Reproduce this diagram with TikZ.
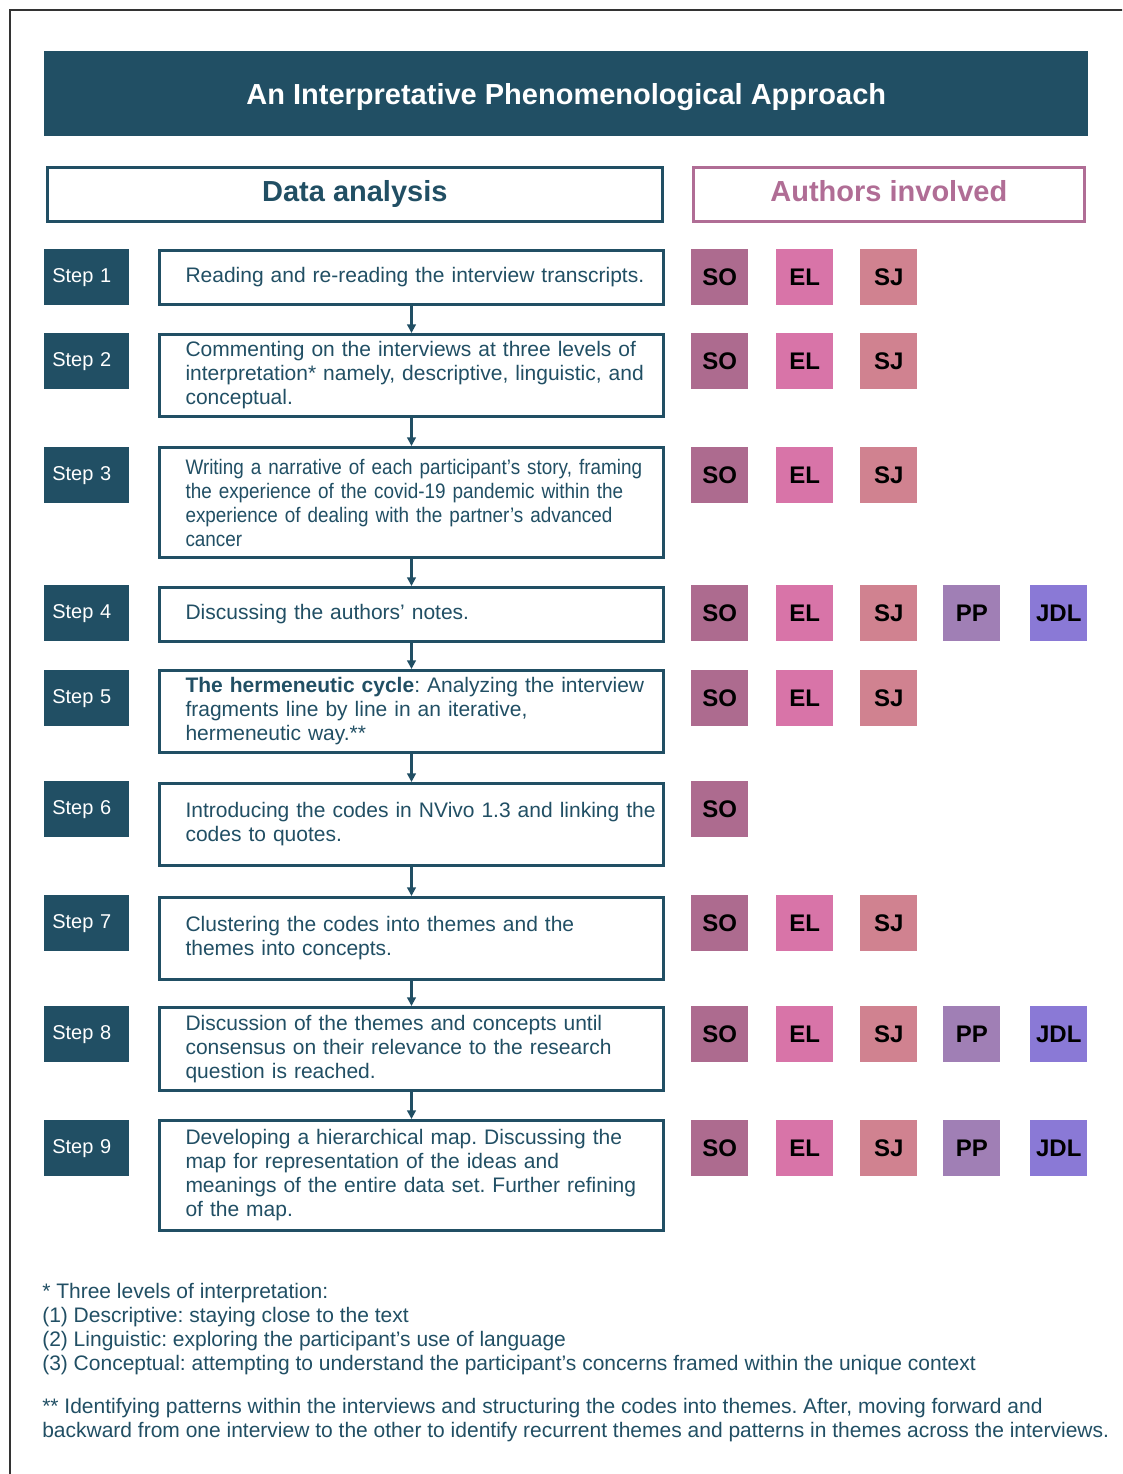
\documentclass[tikz,border=0pt]{standalone}
\usepackage{fontspec}
\setmainfont{Liberation Sans}
\newfontfamily\narrowsans[FakeStretch=0.9]{Liberation Sans}
\usetikzlibrary{arrows.meta}
\definecolor{ipateal}{HTML}{214F64}
\definecolor{ipapink}{HTML}{B06D95}
\definecolor{cSO}{HTML}{AD6B8F}
\definecolor{cEL}{HTML}{D874A8}
\definecolor{cSJ}{HTML}{D08290}
\definecolor{cPP}{HTML}{A07FB5}
\definecolor{cJDL}{HTML}{8A79D6}
\frenchspacing
\begin{document}
\begin{tikzpicture}[x=0.75pt,y=-0.75pt,
  bodyfont/.style={font=\fontsize{15.75pt}{18pt}\selectfont},
  textbox/.style={draw=ipateal, line width=2.25pt, anchor=north west, text width=339pt,
    align=left, inner xsep=19.5pt, inner ysep=0pt, bodyfont, text=ipateal},
  steplabel/.style={fill=ipateal, anchor=north west, text width=51.75pt, inner xsep=6pt,
    inner ysep=0pt, minimum height=42pt, align=left, text=white,
    font=\fontsize{15pt}{18pt}\selectfont},
  author/.style={anchor=north west, minimum width=42.75pt, minimum height=42pt,
    inner sep=0pt, text=black, font=\bfseries\fontsize{18pt}{20pt}\selectfont},
  headbox/.style={line width=2.25pt, anchor=north west, minimum height=40.5pt,
    inner sep=0pt, text height=11pt, text depth=0pt,
    font=\bfseries\fontsize{21.75pt}{26pt}\selectfont},
  flowarrow/.style={draw=ipateal, line width=2pt, -{Triangle[width=6.5pt,length=6.5pt]}},
  note/.style={anchor=north west, align=left, inner sep=0pt, bodyfont, text=ipateal}]
\clip (0,0) rectangle (1122,1474);
\fill[white] (0,0) rectangle (1122,1474);
% outer frame
\draw[line width=1.2pt, black!80] (10,1500) -- (10,10) -- (1140,10);
% title
\node[fill=ipateal, anchor=north west, minimum width=783pt, minimum height=63.75pt,
  inner sep=0pt, text=white, text height=15.6pt, text depth=0pt,
  font=\bfseries\fontsize{21.75pt}{26pt}\selectfont]
  (title) at (44,51) {An Interpretative Phenomenological Approach};
% headers
\node[headbox, draw=ipateal, text=ipateal, minimum width=461pt] (hdata) at (46,166) {Data analysis};
\node[headbox, draw=ipapink, text=ipapink, minimum width=293pt] (hauth) at (692,166) {Authors involved};
% step labels and authors
\foreach \r/\y/\n in {1/249/3, 2/333/3, 3/447/3, 4/585/5, 5/670/3, 6/781/1, 7/895/3, 8/1006/5, 9/1120/5}{
  \node[steplabel] (s\r) at (44,\y) {Step \r};
  \foreach \a/\x/\k in {SO/691/1, EL/776/2, SJ/860/3, PP/943/4, JDL/1030/5}{
    \ifnum\k>\n\relax\else
      \node[author, fill=c\a] (\a\r) at (\x,\y) {\a};
    \fi
  }
}
% step texts
\node[textbox, minimum height=40.5pt] (t1) at (158,249)
  {\mbox{Reading and re-reading the interview transcripts.}};
\node[textbox, minimum height=61.5pt] (t2) at (158,333)
  {\mbox{Commenting on the interviews at three levels of}\\
   \mbox{interpretation* namely, descriptive, linguistic, and}\\
   \mbox{conceptual.}};
\node[textbox, minimum height=82.5pt, font=\narrowsans\fontsize{15.75pt}{18pt}\selectfont] (t3) at (158,446)
  {\mbox{Writing a narrative of each participant’s story, framing}\\
   \mbox{the experience of the covid-19 pandemic within the}\\
   \mbox{experience of dealing with the partner’s advanced}\\
   \mbox{cancer}};
\node[textbox, minimum height=40.5pt] (t4) at (158,586)
  {\mbox{Discussing the authors’ notes.}};
\node[textbox, minimum height=61.5pt] (t5) at (158,669)
  {\mbox{\textbf{The hermeneutic cycle}: Analyzing the interview}\\
   \mbox{fragments line by line in an iterative,}\\
   \mbox{hermeneutic way.**}};
\node[textbox, minimum height=61.5pt] (t6) at (158,782)
  {\mbox{Introducing the codes in NVivo 1.3 and linking the}\\
   \mbox{codes to quotes.}};
\node[textbox, minimum height=61.5pt] (t7) at (158,896)
  {\mbox{Clustering the codes into themes and the}\\
   \mbox{themes into concepts.}};
\node[textbox, minimum height=62.25pt] (t8) at (158,1006)
  {\mbox{Discussion of the themes and concepts until}\\
   \mbox{consensus on their relevance to the research}\\
   \mbox{question is reached.}};
\node[textbox, minimum height=82.5pt] (t9) at (158,1119)
  {\mbox{Developing a hierarchical map. Discussing the}\\
   \mbox{map for representation of the ideas and}\\
   \mbox{meanings of the entire data set. Further refining}\\
   \mbox{of the map.}};
% arrows
\foreach \i/\j in {1/2,2/3,3/4,4/5,5/6,6/7,7/8,8/9}{
  \draw[flowarrow] (t\i.south) -- (t\j.north);
}
% footnotes
\node[note] (fn1) at (42,1283)
  {* Three levels of interpretation:\\
   (1) Descriptive: staying close to the text\\
   (2) Linguistic: exploring the participant’s use of language\\
   (3) Conceptual: attempting to understand the participant’s concerns framed within the unique context};
\node[note] (fn2) at (42,1398)
  {** Identifying patterns within the interviews and structuring the codes into themes. After, moving forward and\\
   backward from one interview to the other to identify recurrent themes and patterns in themes across the interviews.};
\end{tikzpicture}
\end{document}
